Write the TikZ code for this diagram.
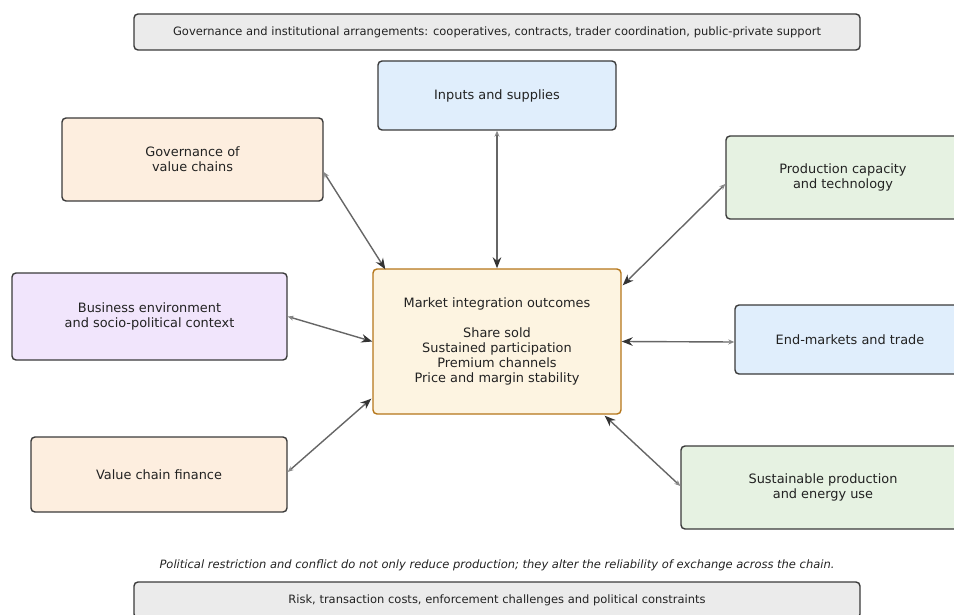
\documentclass[tikz,border=0pt]{standalone}
\usepackage{fontspec}
\setmainfont{DejaVu Sans}[ItalicFont={DejaVu Sans Oblique}]
\usetikzlibrary{arrows.meta,calc}
\definecolor{boxline}{HTML}{3A3A3A}
\definecolor{txt}{HTML}{222222}
\definecolor{bannerfill}{HTML}{EBEBEB}
\definecolor{bluefill}{HTML}{E0EEFC}
\definecolor{peachfill}{HTML}{FDEEDF}
\definecolor{greenfill}{HTML}{E6F2E2}
\definecolor{lavfill}{HTML}{F1E5FC}
\definecolor{mktfill}{HTML}{FDF4E1}
\definecolor{mktline}{HTML}{B5761A}
\definecolor{arrline}{HTML}{666666}
\definecolor{arrdark}{HTML}{333333}
\definecolor{arrlight}{HTML}{888888}
\begin{document}
\begin{tikzpicture}[x=1pt,y=-1pt,
  box/.style={draw=boxline, line width=1.4pt, rounded corners=4pt, inner sep=0pt,
    align=center, text=txt, font=\fontsize{12.9}{15}\selectfont},
  banner/.style={box, fill=bannerfill, minimum width=726pt, minimum height=36pt,
    font=\fontsize{11.5}{13.5}\selectfont},
  conn/.style={draw=arrline, line width=1.4pt,
    {Stealth[length=6pt,width=5pt,color=arrlight]}-{Stealth[length=11pt,width=8.5pt,color=arrdark]}}
]
\useasboundingbox (0,0) rectangle (954,615);
\clip (0,0) rectangle (954,615);

\node[banner] (top) at (497,32) {Governance and institutional arrangements: cooperatives, contracts, trader coordination, public-private support};

\node[box, fill=bluefill, minimum width=238pt, minimum height=69pt] (inp) at (497,95.5) {Inputs and supplies};
\node[box, fill=peachfill, minimum width=261pt, minimum height=83pt] (gov) at (192.5,159.5) {Governance of\\value chains};
\node[box, fill=greenfill, minimum width=234pt, minimum height=83pt] (prod) at (843,177.5) {Production capacity\\and technology};
\node[box, fill=lavfill, minimum width=275pt, minimum height=87pt] (bus) at (149.5,316.5) {Business environment\\and socio-political context};
\node[box, draw=mktline, fill=mktfill, minimum width=248pt, minimum height=145pt] (mkt) at (497,341.5)
  {Market integration outcomes\\[15pt]Share sold\\Sustained participation\\Premium channels\\Price and margin stability};
\node[box, fill=bluefill, minimum width=230pt, minimum height=69pt] (endm) at (850,339.5) {End-markets and trade};
\node[box, fill=peachfill, minimum width=256pt, minimum height=75pt] (fin) at (159,474.5) {Value chain finance};
\node[box, fill=greenfill, minimum width=284pt, minimum height=83pt] (sus) at (823,487.5) {Sustainable production\\and energy use};

\node[text=txt, font=\fontsize{11.5}{13.5}\selectfont\itshape, inner sep=0pt] (note) at (497,565.5)
  {Political restriction and conflict do not only reduce production; they alter the reliability of exchange across the chain.};
\node[banner] (bot) at (497,600) {Risk, transaction costs, enforcement challenges and political constraints};

\coordinate (govA) at ($(gov.east)+(0,12.5)$);
\coordinate (mktG) at ($(mkt.north west)+(13,1)$);
\coordinate (prodA) at ($(prod.west)+(0,6.5)$);
\coordinate (mktP) at ($(mkt.north east)+(1,17)$);
\coordinate (endA) at ($(endm.west)+(0,2.5)$);
\coordinate (finA) at ($(fin.east)+(0,-2.5)$);
\coordinate (mktF) at ($(mkt.south west)+(-1,-16)$);
\coordinate (susA) at ($(sus.west)+(0,-1.5)$);
\coordinate (mktS) at ($(mkt.south east)+(-17,1)$);

\draw[conn] (govA) -- (mktG);
\draw[conn] (inp.south) -- (mkt.north);
\draw[conn] (prodA) -- (mktP);
\draw[conn] (bus.east) -- (mkt.west);
\draw[conn] (endA) -- (mkt.east);
\draw[conn] (finA) -- (mktF);
\draw[conn] (susA) -- (mktS);
\end{tikzpicture}
\end{document}
